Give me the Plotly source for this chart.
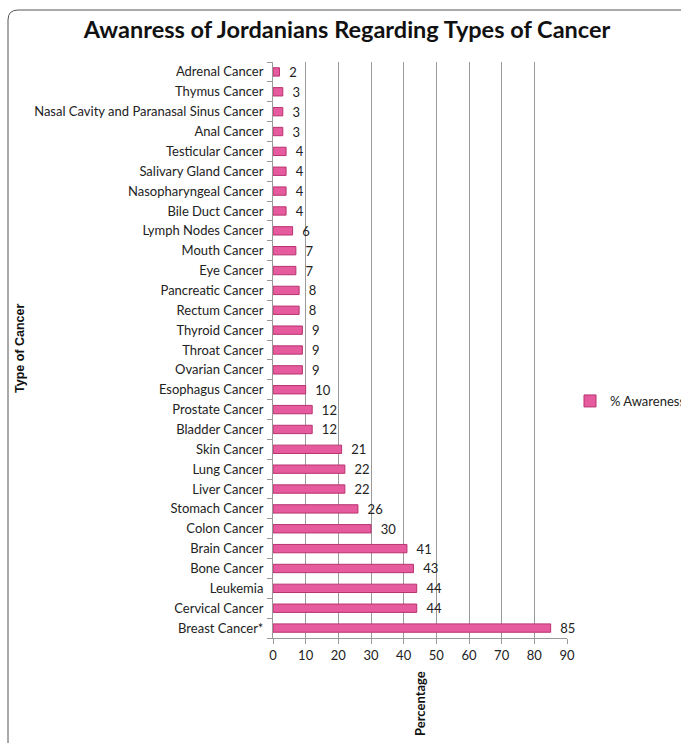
import plotly.graph_objects as go

categories = ["Breast Cancer*", "Cervical Cancer", "Leukemia", "Bone Cancer", "Brain Cancer",
              "Colon Cancer", "Stomach Cancer", "Liver Cancer", "Lung Cancer", "Skin Cancer",
              "Bladder Cancer", "Prostate Cancer", "Esophagus Cancer", "Ovarian Cancer",
              "Throat Cancer", "Thyroid Cancer", "Rectum Cancer", "Pancreatic Cancer",
              "Eye Cancer", "Mouth Cancer", "Lymph Nodes Cancer", "Bile Duct Cancer",
              "Nasopharyngeal Cancer", "Salivary Gland Cancer", "Testicular Cancer",
              "Anal Cancer", "Nasal Cavity and Paranasal Sinus Cancer", "Thymus Cancer",
              "Adrenal Cancer"]
awareness = [85, 44, 44, 43, 41, 30, 26, 22, 22, 21, 12, 12, 10, 9, 9, 9, 8, 8, 7, 7, 6,
             4, 4, 4, 4, 3, 3, 3, 2]
x_ticks = [0, 10, 20, 30, 40, 50, 60, 70, 80, 90]

W, H = 681, 743
L, R, T, B = 273, 567, 62, 638

def px(x):
    return (x - L) / (R - L)

def py(y):
    return (B - y) / (B - T)

FONT = "Lato"

fig = go.Figure()
fig.add_trace(go.Bar(
    y=categories, x=awareness, orientation="h", name="% Awareness",
    marker=dict(color="#e65a9e", line=dict(color="#b8336f", width=1)),
    width=0.42,
    text=["\u00a0\u00a0" + str(v) for v in awareness], textposition="outside",
    constraintext="none",
    textfont=dict(family=FONT, size=13, color="#222222"),
    cliponaxis=False,
))

fig.update_layout(
    width=W, height=H,
    margin=dict(l=L, r=W - R, t=T, b=H - B, pad=0, autoexpand=False),
    paper_bgcolor="white", plot_bgcolor="white",
    font=dict(family=FONT, size=13, color="#222222"),
    title=dict(text="<b>Awanress of Jordanians Regarding Types of Cancer</b>",
               x=347 / W, xanchor="center", y=1 - 30 / H, yanchor="middle",
               font=dict(family=FONT, size=23.5, color="#111111")),
    xaxis=dict(range=[0, 90], tickvals=x_ticks, showgrid=True, gridcolor="#9a9a9a",
               gridwidth=1, showline=True, linecolor="#9a9a9a", ticks="outside",
               ticklen=5, tickcolor="#9a9a9a", zeroline=False,
               tickfont=dict(family=FONT, size=13, color="#222222"), automargin=False),
    yaxis=dict(type="category", categoryorder="array", categoryarray=categories,
               showline=True, linecolor="#9a9a9a", ticks="outside", ticklen=5,
               tickcolor="#9a9a9a", tickson="boundaries", ticklabelstandoff=6,
               tickfont=dict(family=FONT, size=13, color="#222222"), showgrid=False,
               automargin=False),
    bargap=0.5,
    showlegend=True,
    legend=dict(xref="container", yref="container", x=570 / W, y=1 - 401 / H,
                xanchor="left", yanchor="middle",
                font=dict(family=FONT, size=13, color="#222222"),
                bgcolor="rgba(0,0,0,0)", itemwidth=30),
)

fig.add_annotation(text="<b>Percentage</b>", textangle=-90, xref="paper", yref="paper",
                   x=px(420), y=py(704), xanchor="center", yanchor="middle",
                   showarrow=False,
                   font=dict(family=FONT, size=13, color="#111111"))
fig.add_annotation(text="<b>Type of Cancer</b>", textangle=-90, xref="paper", yref="paper",
                   x=px(20), y=py(348), xanchor="center", yanchor="middle",
                   showarrow=False,
                   font=dict(family="Liberation Sans", size=12.5, color="#111111"))

# chart border (rounded corner top-left)
r = 10
path = (f"M {px(8)} {py(760)} L {px(8)} {py(10 + r)} "
        f"Q {px(8)} {py(10)} {px(8 + r)} {py(10)} L {px(700)} {py(10)}")
fig.add_shape(type="path", path=path, xref="paper", yref="paper",
              line=dict(color="#555555", width=1))

fig.write_html("out.html")
